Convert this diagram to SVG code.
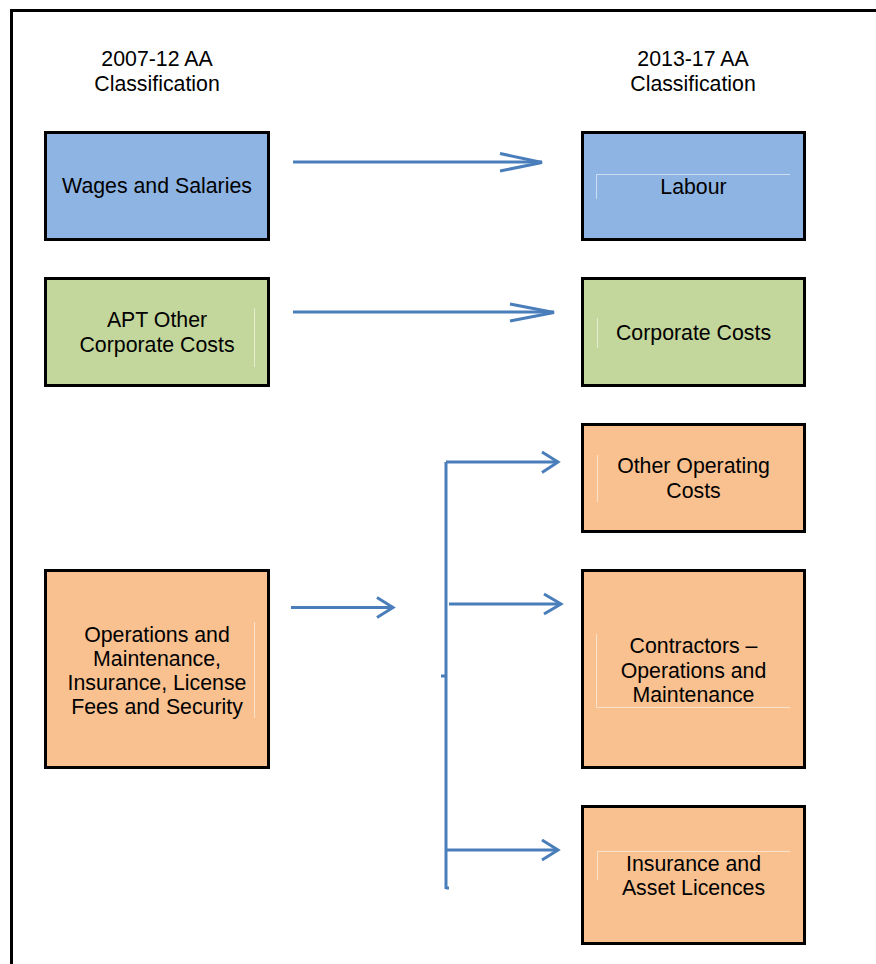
<svg xmlns="http://www.w3.org/2000/svg" width="876" height="964" viewBox="0 0 876 964">
<style>
.box{stroke:#000;stroke-width:3}
.blue{fill:#8eb4e3}
.green{fill:#c3d69b}
.orange{fill:#f9c090}
.t{font-family:"Liberation Sans",Arial,sans-serif;font-size:21.3px;fill:#000;text-anchor:middle}
.faint{stroke:#ffffff;stroke-opacity:0.55;stroke-width:1;fill:none}
.conn line,.conn path{stroke:#4a7ebb;stroke-width:3;fill:none}
.head{stroke:#4a7ebb;stroke-width:3;fill:none;stroke-linecap:butt}
</style>
<rect width="876" height="964" fill="#fff"/>
<g id="frame">
<line x1="11.5" y1="9" x2="11.5" y2="964" stroke="#000" stroke-width="3"/>
<line x1="10" y1="10.5" x2="876" y2="10.5" stroke="#000" stroke-width="3"/>
</g>
<g id="headers">
<text class="t" x="157" y="65.5">2007-12 AA</text>
<text class="t" x="157" y="91">Classification</text>
<text class="t" x="693" y="65.5">2013-17 AA</text>
<text class="t" x="693" y="91">Classification</text>
</g>
<g id="wages">
<rect class="box blue" x="45.5" y="132.5" width="223" height="107"/>
<text class="t" x="157" y="193">Wages and Salaries</text>
</g>
<g id="labour">
<rect class="box blue" x="582.5" y="132.5" width="222" height="107"/>
<path class="faint" d="M596.5 199V174.5H790"/>
<text class="t" x="693.5" y="194">Labour</text>
</g>
<g id="apt">
<rect class="box green" x="45.5" y="278.5" width="223" height="107"/>
<path class="faint" d="M254.5 308V367"/>
<text class="t" x="157" y="327">APT Other</text>
<text class="t" x="157" y="352">Corporate Costs</text>
</g>
<g id="corporate">
<rect class="box green" x="582.5" y="278.5" width="222" height="107"/>
<path class="faint" d="M597.5 318V348"/>
<text class="t" x="693.5" y="340">Corporate Costs</text>
</g>
<g id="otherop">
<rect class="box orange" x="582.5" y="424.5" width="222" height="107"/>
<path class="faint" d="M597.5 455V502"/>
<text class="t" x="693.5" y="473">Other Operating</text>
<text class="t" x="693.5" y="498">Costs</text>
</g>
<g id="ops">
<rect class="box orange" x="45.5" y="570.5" width="223" height="197"/>
<path class="faint" d="M254.5 622V718"/>
<text class="t" x="157" y="642">Operations and</text>
<text class="t" x="157" y="666">Maintenance,</text>
<text class="t" x="157" y="690">Insurance, License</text>
<text class="t" x="157" y="714">Fees and Security</text>
</g>
<g id="contractors">
<rect class="box orange" x="582.5" y="570.5" width="222" height="197"/>
<path class="faint" d="M596.5 634V707.5H790"/>
<text class="t" x="693.5" y="653">Contractors –</text>
<text class="t" x="693.5" y="678">Operations and</text>
<text class="t" x="693.5" y="702">Maintenance</text>
</g>
<g id="insurance">
<rect class="box orange" x="582.5" y="806.5" width="222" height="137"/>
<path class="faint" d="M597.5 880V851.5H790"/>
<text class="t" x="693.5" y="871">Insurance and</text>
<text class="t" x="693.5" y="895">Asset Licences</text>
</g>
<g id="connectors" class="conn">
<line x1="293" y1="162" x2="542" y2="162"/>
<path class="head" d="M500 153.5L542 162.5L500 171"/>
<line x1="293" y1="312" x2="554" y2="312"/>
<path class="head" d="M510 304L554 312.5L510 321"/>
<line x1="291" y1="607.5" x2="393" y2="607.5"/>
<path class="head" d="M377 597.5L393 607.5L377 617.5"/>
<line x1="446" y1="462" x2="446" y2="889" stroke="#5b8cc8"/>
<line x1="441" y1="676" x2="446" y2="676"/>
<line x1="446" y1="888" x2="449" y2="888"/>
<line x1="446" y1="462" x2="558" y2="462"/>
<path class="head" d="M542 452L558 462L542 472.5"/>
<line x1="449" y1="604" x2="561" y2="604"/>
<path class="head" d="M544 594L561 604L544 614"/>
<line x1="446" y1="850" x2="558" y2="850"/>
<path class="head" d="M542 840L558 850L542 860"/>
</g>
</svg>
